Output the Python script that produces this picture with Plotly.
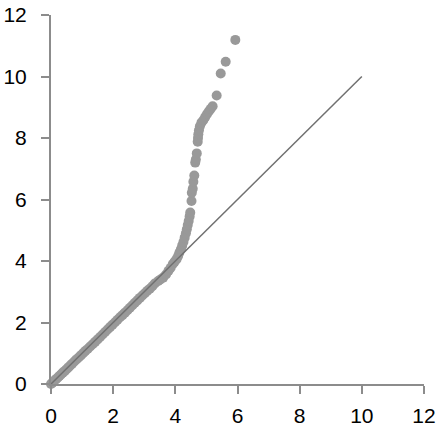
import plotly.graph_objects as go

# Body of the QQ plot (observed vs expected quantiles)
body_x = [0.00,0.04,0.08,0.12,0.17,0.22,0.27,0.32,0.38,0.44,0.50,0.56,0.62,0.68,0.75,0.82,0.89,0.96,1.03,1.10,1.18,1.26,1.34,1.42,1.50,1.58,1.66,1.74,1.82,1.90,1.98,2.06,2.14,2.22,2.30,2.38,2.46,2.54,2.62,2.70,2.78,2.86,2.94,3.02,3.10,3.18,3.26,3.34]
body_y = [0.00,0.03,0.07,0.12,0.16,0.21,0.26,0.31,0.37,0.42,0.48,0.54,0.60,0.66,0.73,0.80,0.86,0.93,1.00,1.07,1.14,1.22,1.29,1.37,1.45,1.53,1.61,1.69,1.77,1.85,1.93,2.01,2.09,2.17,2.24,2.32,2.40,2.48,2.56,2.64,2.72,2.80,2.88,2.95,3.03,3.10,3.18,3.27]

# Upper tail
tail_x = [3.45,3.52,3.61,3.70,3.78,3.85,3.92,3.98,4.04,4.09,4.13,4.18,4.22,4.26,4.30,4.34,4.37,4.40,4.43,4.46,4.48,4.52,4.53,4.56,4.58,4.61,4.64,4.66,4.69,4.72,4.73,4.74,4.76,4.79,4.84,4.90,4.96,5.02,5.08,5.14,5.20,5.33,5.46,5.62,5.93]
tail_y = [3.35,3.40,3.46,3.56,3.68,3.78,3.90,3.98,4.06,4.16,4.27,4.38,4.50,4.62,4.76,4.90,5.03,5.17,5.30,5.45,5.58,5.95,6.22,6.35,6.58,6.78,7.20,7.30,7.50,7.88,8.00,8.12,8.25,8.38,8.50,8.58,8.68,8.78,8.87,8.95,9.03,9.38,10.10,10.48,11.19]

ref_x = [0, 10]
ref_y = [0, 10]

tick_vals = [0, 2, 4, 6, 8, 10, 12]

fig = go.Figure()
fig.add_trace(go.Scatter(
    x=body_x + tail_x, y=body_y + tail_y, mode="markers",
    marker=dict(size=10, color="#999999", line=dict(width=0)),
    cliponaxis=False, showlegend=False,
))
fig.add_trace(go.Scatter(
    x=ref_x, y=ref_y, mode="lines",
    line=dict(color="#707070", width=1.5),
    cliponaxis=False, showlegend=False,
))

axis_common = dict(
    range=[0, 12], tickvals=tick_vals, ticktext=[str(v) for v in tick_vals],
    showgrid=False, zeroline=False, showline=True,
    linecolor="#8c8c8c", linewidth=2,
    ticks="outside", ticklen=8, tickwidth=2, tickcolor="#8c8c8c",
    tickfont=dict(family="Liberation Sans, Arial, sans-serif", size=21, color="#000000"),
    automargin=False,
)

fig.update_layout(
    width=440, height=430,
    margin=dict(l=51, r=16, t=15, b=46),
    plot_bgcolor="white", paper_bgcolor="white",
    xaxis=dict(axis_common, ticklabelstandoff=4),
    yaxis=dict(axis_common, ticklabelstandoff=10),
)

fig.write_html(
    "out.html",
    config={"displayModeBar": False},
    post_script="document.body.style.margin='0';document.body.style.overflow='hidden';",
)
